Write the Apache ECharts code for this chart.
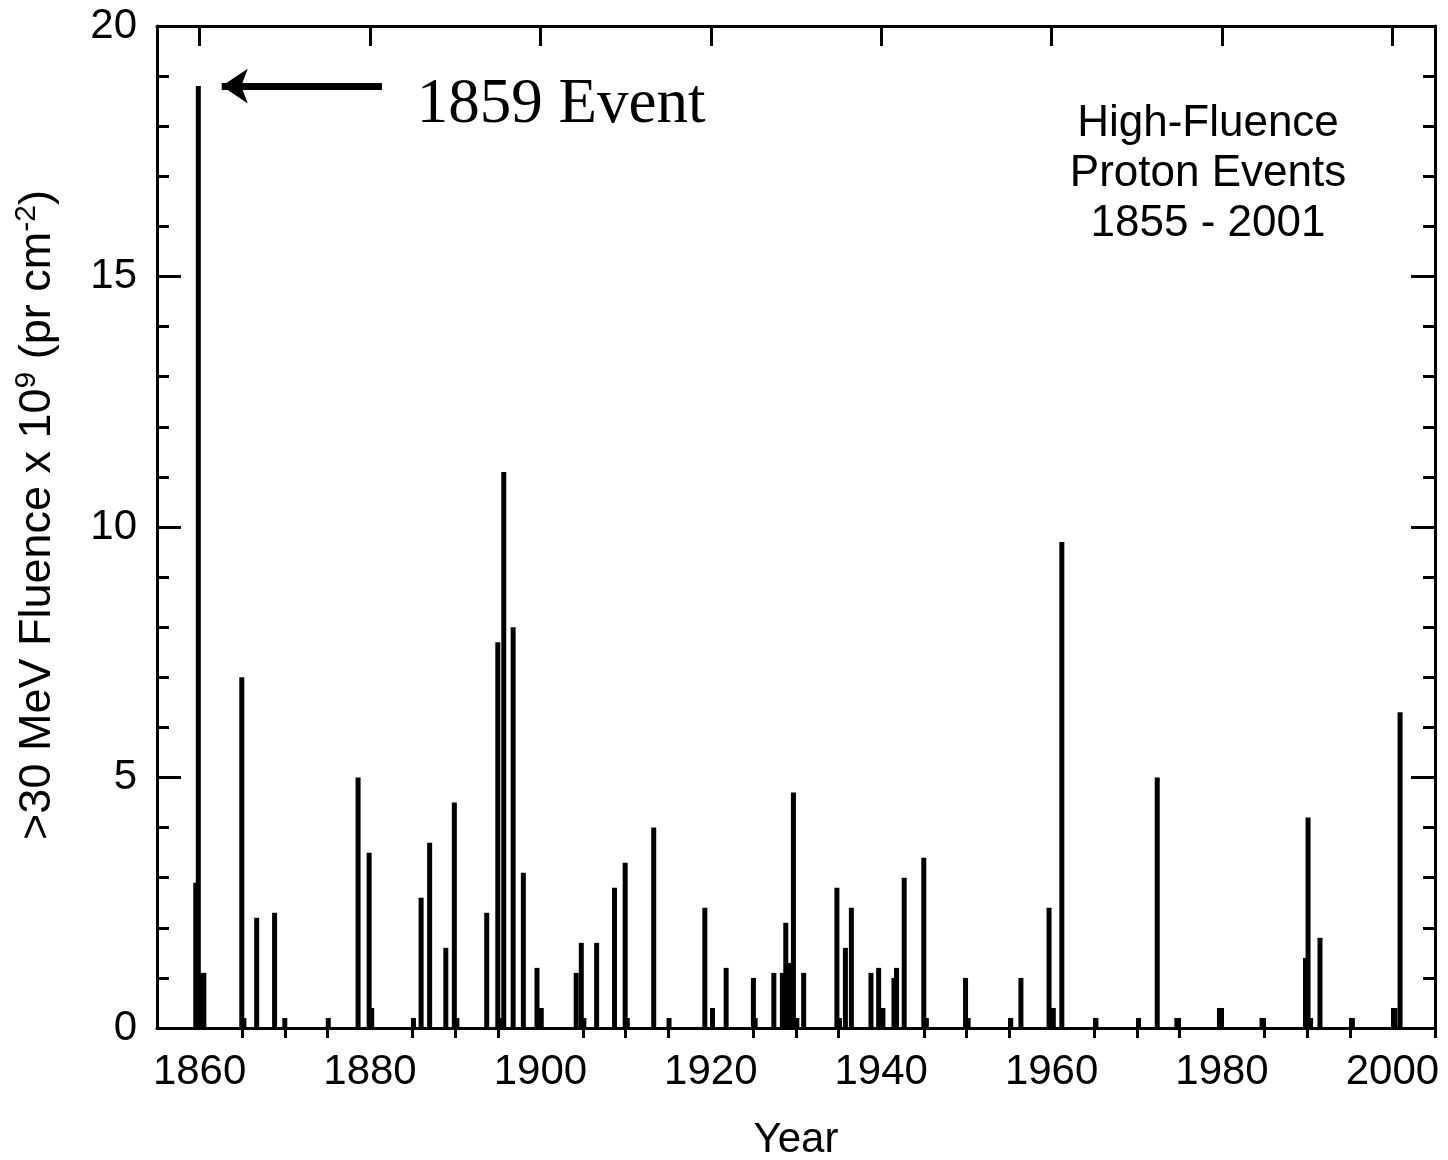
<!DOCTYPE html>
<html>
<head>
<meta charset="utf-8">
<title>High-Fluence Proton Events</title>
<script src="https://cdn.jsdelivr.net/npm/echarts@6/dist/echarts.min.js"></script>
<style>
  html, body { margin: 0; padding: 0; background: #fff; }
  #chart { width: 1448px; height: 1160px; }
</style>
</head>
<body>
<div id="chart"></div>
<script>
// event dates (fractional year) and >30 MeV fluence (x 10^9 pr cm^-2)
const eventYears = [
  1859.55, 1859.85, 1860.1, 1860.5, 1864.95, 1865.2, 1866.7, 1868.8, 1870.0, 1875.1,
  1878.6, 1879.9, 1880.2, 1885.1, 1886.0, 1887.0, 1888.9, 1889.9, 1890.2, 1893.7,
  1895.0, 1895.3, 1895.7, 1896.8, 1898.0, 1899.6, 1900.1, 1904.2, 1904.8, 1905.1,
  1906.6, 1908.7, 1909.95, 1910.2, 1913.3, 1915.1, 1919.3, 1920.2, 1921.8, 1925.0,
  1925.2, 1927.4, 1928.4, 1928.8, 1929.2, 1929.7, 1930.1, 1930.9, 1934.8, 1935.1,
  1935.8, 1936.5, 1938.8, 1939.7, 1940.2, 1941.5, 1941.8, 1942.7, 1945.0, 1945.3,
  1949.9, 1950.2, 1955.2, 1956.4, 1959.7, 1960.2, 1961.2, 1965.2, 1970.2, 1972.4,
  1974.7, 1979.7, 1984.7, 1989.8, 1990.1, 1990.4, 1991.5, 1995.3, 2000.3, 2000.9
]
const fluence = [
  2.9, 18.8, 1.1, 1.1, 7.0, 0.2, 2.2, 2.3, 0.2, 0.2,
  5.0, 3.5, 0.4, 0.2, 2.6, 3.7, 1.6, 4.5, 0.2, 2.3,
  7.7, 0.2, 11.1, 8.0, 3.1, 1.2, 0.4, 1.1, 1.7, 0.2,
  1.7, 2.8, 3.3, 0.2, 4.0, 0.2, 2.4, 0.4, 1.2, 1.0,
  0.2, 1.1, 1.1, 2.1, 1.3, 4.7, 0.2, 1.1, 2.8, 0.2,
  1.6, 2.4, 1.1, 1.2, 0.4, 1.0, 1.2, 3.0, 3.4, 0.2,
  1.0, 0.2, 0.2, 1.0, 2.4, 0.4, 9.7, 0.2, 0.2, 5.0,
  0.2, 0.4, 0.2, 1.4, 4.2, 0.2, 1.8, 0.2, 0.4, 6.3
]

const majorYears = [1860, 1880, 1900, 1920, 1940, 1960, 1980, 2000]
const minorYears = [1865, 1870, 1875, 1885, 1890, 1895, 1905, 1910, 1915, 1925, 1930, 1935,
  1945, 1950, 1955, 1965, 1970, 1975, 1985, 1990, 1995, 2005]

// 1859 annotation: arrow from -> to, and where the label sits
const arrowFrom = [1881.4, 18.8]
const arrowTo = [1862.6, 18.8]
const eventLabelAt = [1885.5, 18.42]

const SANS = '"Liberation Sans", Arial, sans-serif'
const SERIF = '"Liberation Serif", "Times New Roman", serif'
const black = '#000'

const xBase = {
  type: 'value', min: 1855, max: 2005,
  splitLine: { show: false },
  axisLine: { show: false },
  axisLabel: { show: false }
}

const xAxes = [
  {
    ...xBase, position: 'bottom',
    axisLine: { show: true, onZero: false, lineStyle: { color: black, width: 3 } },
    axisTick: { inside: true, length: 20, customValues: majorYears, lineStyle: { color: black, width: 3 } },
    axisLabel: {
      show: true, customValues: majorYears, formatter: v => String(v),
      fontSize: 42, fontFamily: SANS, color: black, margin: 23
    },
    name: 'Year', nameLocation: 'middle', nameGap: 91,
    nameTextStyle: { fontSize: 42, fontFamily: SANS, color: black }
  },
  {
    ...xBase, position: 'bottom',
    axisTick: { inside: true, length: 10, customValues: minorYears, lineStyle: { color: black, width: 3 } }
  },
  {
    ...xBase, position: 'top',
    axisLine: { show: true, onZero: false, lineStyle: { color: black, width: 3 } },
    axisTick: { inside: true, length: 20, customValues: majorYears, lineStyle: { color: black, width: 3 } }
  },
  {
    ...xBase, position: 'top',
    axisTick: { inside: true, length: 10, customValues: minorYears, lineStyle: { color: black, width: 3 } }
  }
]

const yBase = {
  type: 'value', min: 0, max: 20, interval: 5,
  splitLine: { show: false },
  axisLine: { show: true, onZero: false, lineStyle: { color: black, width: 3 } },
  axisTick: { inside: true, length: 24, lineStyle: { color: black, width: 3 } },
  minorTick: { show: true, splitNumber: 5, length: 12, lineStyle: { color: black, width: 3 } },
  minorSplitLine: { show: false }
}

const yAxes = [
  {
    ...yBase, position: 'left',
    axisLabel: { fontSize: 42, fontFamily: SANS, color: black, margin: 20 },
    name: '>30 MeV Fluence x 10{sup|9} (pr cm{sup|-2})',
    nameLocation: 'middle', nameGap: 93, nameRotate: 90,
    nameTextStyle: {
      fontSize: 45, fontFamily: SANS, color: black,
      padding: [0, 0, 0, 24],
      rich: { sup: { fontSize: 30, fontFamily: SANS, color: black, verticalAlign: 'top', lineHeight: 52 } }
    }
  },
  { ...yBase, position: 'right', axisLabel: { show: false } }
]

const chart = echarts.init(document.getElementById('chart'), null, { renderer: 'canvas' })

chart.setOption({
  animation: false,
  backgroundColor: '#fff',
  grid: { left: 157, right: 13, top: 26, bottom: 132, containLabel: false, outerBoundsMode: 'none' },
  xAxis: xAxes,
  yAxis: yAxes,
  graphic: [{
    type: 'text', x: 1208, y: 99,
    style: {
      text: 'High-Fluence\nProton Events\n1855 - 2001',
      align: 'center', fontSize: 44, lineHeight: 50, fontFamily: SANS, fill: black
    }
  }],
  series: [{
    type: 'bar',
    xAxisIndex: 0,
    yAxisIndex: 0,
    barWidth: 5,
    itemStyle: { color: black },
    data: eventYears.map((y, i) => [y, fluence[i]]),
    markLine: {
      silent: true,
      symbol: ['none', 'arrow'],
      symbolSize: [26, 26],
      lineStyle: { color: black, width: 7, type: 'solid' },
      label: { show: false },
      data: [[{ coord: arrowFrom }, { coord: arrowTo }]]
    },
    markPoint: {
      silent: true,
      symbol: 'circle',
      symbolSize: 0,
      label: {
        show: true, position: 'right', distance: 0,
        formatter: '1859 Event', fontFamily: SERIF, fontSize: 63, color: black
      },
      data: [{ coord: eventLabelAt }]
    }
  }]
})
</script>
</body>
</html>
